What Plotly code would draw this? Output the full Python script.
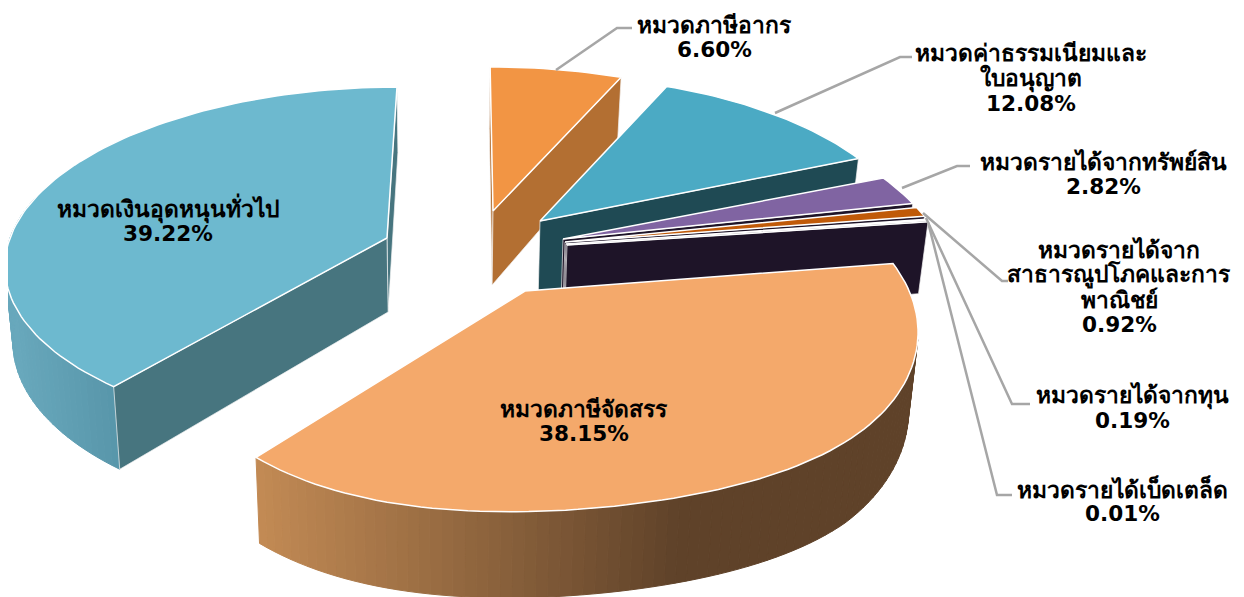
import math
import plotly.graph_objects as go

# ---- data ----
categories = [["หมวดภาษีอากร"], ["หมวดค่าธรรมเนียมและ", "ใบอนุญาต"], ["หมวดรายได้จากทรัพย์สิน"],
              ["หมวดรายได้จาก", "สาธารณูปโภคและการ", "พาณิชย์"], ["หมวดรายได้จากทุน"],
              ["หมวดรายได้เบ็ดเตล็ด"], ["หมวดภาษีจัดสรร"], ["หมวดเงินอุดหนุนทั่วไป"]]
values = [6.60, 12.08, 2.82, 0.92, 0.19, 0.01, 38.15, 39.22]
top_colors = ["#F29544", "#4BAAC4", "#8064A2", "#C05A09", "#F2F7F8", "#1E1428", "#F4A96B", "#6DB9CF"]
wall_colors = ["#B36F32", "#1F4A54", "#1E1428", "#1E1428", "#1E1428", "#1E1428", "#5F4229", "#47757F"]
# ---- layout of the exploded 3-D pie (pixels of the page) ----
W, H = 1244, 597
PAGE_MARGIN = 8
# apex x, apex y, a, b, k, shear, m, front flattening
geom = [(493, 211, 384, 173, .20, .02, 0, 0),
        (540, 221, 372, 174, .20, 0, 0, 0),
        (563, 239, 374, 170, .20, 0, 0, 0),
        (565, 242, 376, 165, .20, 0, 0, 0),
        (566, 244, 376, 162, .20, 0, 0, 0),
        (567, 245, 376, 160, .20, 0, 0, 0),
        (525, 291, 370, 184, .207, 0, -.037, .06),
        (387, 238, 377, 171, .133, -.066, 0, 0)]
label_pos = [(714, 37), (1031, 78), (1103, 174), (1119, 287), (1132, 408), (1122, 501), (584, 421), (168, 221)]
leaders = [[(556, 70), (617, 28), (632, 28)],
           [(775, 113), (900, 57), (912, 57)],
           [(902, 188), (957, 166), (970, 166)],
           [(923, 213), (1002, 281), (1008, 281)],
           [(926, 218), (1012, 404), (1030, 404)],
           [(928, 222), (997, 495), (1012, 495)]]
WALL_H = 74
WALL_MAX = 86
LINE_PITCH = 25

total = sum(values)
bounds = [0.0]
for v in values:
    bounds.append(bounds[-1] + v / total * 360)


def proj(i, deg):
    ax, ay, a, b, k, s, m, q = geom[i]
    t = math.radians(deg)
    d = 1 + k * math.cos(t) + m * math.sin(t)
    v = -b * math.cos(t) / d
    off = (deg - 165) / 53
    if abs(off) < 1:
        v *= 1 - q * math.cos(off * math.pi / 2) ** 2
    u = a * math.sin(t) / d + s * v
    return ax + u, ay + v


def drop(i, p, deg=None):
    """Bottom of the wall under top point p; deg None means the apex."""
    k = geom[i][4]
    h = WALL_H if deg is None else min(WALL_MAX, WALL_H / (1 + k * math.cos(math.radians(deg))))
    slope = .02 if p[0] > 450 else .018
    return p[0] + (450 - p[0]) * slope, p[1] + h


fig = go.Figure()


def poly(pts, fill, line=None, lw=0.0):
    xs = [p[0] for p in pts] + [pts[0][0]]
    ys = [p[1] for p in pts] + [pts[0][1]]
    fig.add_trace(go.Scatter(x=xs, y=ys, mode="lines", fill="toself", fillcolor=fill,
                             line=dict(color=line or fill, width=lw if line else 1),
                             hoverinfo="skip", showlegend=False))


def radial_wall(i, deg):
    apex = geom[i][:2]
    p = proj(i, deg)
    poly([apex, p, drop(i, p, deg), drop(i, apex)], wall_colors[i], "#F4F4F4", 0.7)


def lerp_hex(c1, c2, t):
    t = max(0, min(1, t))
    a = [int(c1[j:j + 2], 16) for j in (1, 3, 5)]
    b = [int(c2[j:j + 2], 16) for j in (1, 3, 5)]
    return "#%02X%02X%02X" % tuple(round(x + (y - x) * t) for x, y in zip(a, b))


def arc_wall(i, d0, d1, colour_at):
    n = int(abs(d1 - d0) / 1.5) + 1
    for j in range(n):
        s0 = d0 + (d1 - d0) * j / n
        s1 = d0 + (d1 - d0) * (j + 1) / n
        p0, p1 = proj(i, s0), proj(i, s1)
        c = colour_at((p0[0] + p1[0]) / 2)
        poly([p0, p1, drop(i, p1, s1), drop(i, p0, s0)], c)


def top(i):
    d0, d1 = bounds[i], bounds[i + 1]
    n = max(3, int((d1 - d0) / 1.5))
    pts = [geom[i][:2]] + [proj(i, d0 + (d1 - d0) * j / n) for j in range(n + 1)]
    poly(pts, top_colors[i], "#FFFFFF", 1.5)


# general-grant slice (back left)
radial_wall(7, bounds[8])
arc_wall(7, 218.8, 285, lambda x: lerp_hex("#5896AA", "#68A8BC", (113 - x) / 100))
radial_wall(7, bounds[7])
top(7)
# tax slice
radial_wall(0, bounds[0])
radial_wall(0, bounds[1])
top(0)
# fees slice
radial_wall(1, bounds[2])
top(1)
# thin slices
for i in (2, 3, 4, 5):
    radial_wall(i, bounds[i + 1])
    top(i)
# allocated-tax slice (front)
arc_wall(6, 104, bounds[7], lambda x: lerp_hex("#5F4229", "#C28A54", (680 - x) / 420))
top(6)

for pts in leaders:
    fig.add_trace(go.Scatter(x=[p[0] for p in pts], y=[p[1] for p in pts], mode="lines",
                             line=dict(color="#A6A6A6", width=2.5),
                             hoverinfo="skip", showlegend=False))

# thin grey edge of the screenshot
fig.add_trace(go.Scatter(x=[1238, 1238], y=[0, H], mode="lines",
                         line=dict(color="#D9D9D9", width=2), hoverinfo="skip", showlegend=False))

FONT = "Tahoma, DejaVu Sans, Noto Sans"
for cat, val, (x, y) in zip(categories, values, label_pos):
    n = len(cat) + 1
    for j, txt in enumerate(cat + [f"{val:.2f}%"]):
        is_pct = j == n - 1
        fig.add_annotation(x=x, y=y + (j - (n - 1) / 2) * LINE_PITCH, xref="x", yref="y",
                           showarrow=False, align="center", text=f"<b>{txt}</b>",
                           font=dict(family=FONT, size=21.6 if is_pct else 22.8, color="#000000"))

fig.update_layout(width=W - PAGE_MARGIN, height=H - PAGE_MARGIN, autosize=False,
                  margin=dict(l=0, r=0, t=0, b=0),
                  paper_bgcolor="#FFFFFF", plot_bgcolor="#FFFFFF", showlegend=False,
                  xaxis=dict(range=[PAGE_MARGIN, W], visible=False, fixedrange=True),
                  yaxis=dict(range=[H, PAGE_MARGIN], visible=False, fixedrange=True))
fig.write_html("out.html", config=dict(displayModeBar=False))
